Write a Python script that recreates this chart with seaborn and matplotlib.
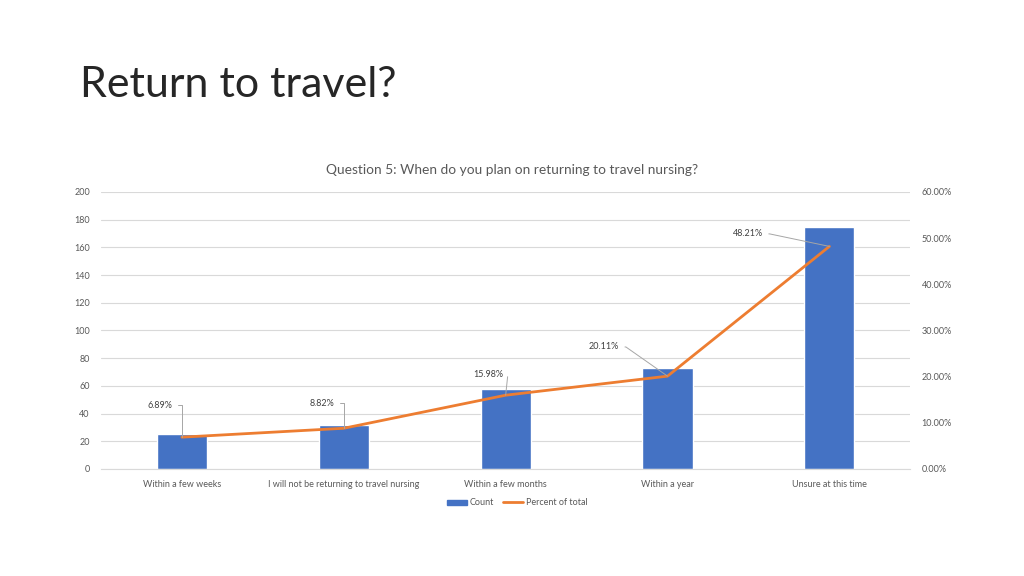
import pandas as pd
import matplotlib.pyplot as plt
import seaborn as sns
from matplotlib.patches import Patch
from matplotlib.lines import Line2D

categories = ["Within a few weeks", "I will not be returning to travel nursing",
              "Within a few months", "Within a year", "Unsure at this time"]
counts = [25, 32, 58, 73, 175]
percents = [6.89, 8.82, 15.98, 20.11, 48.21]
percent_labels = ["6.89%", "8.82%", "15.98%", "20.11%", "48.21%"]

df = pd.DataFrame({"category": categories, "count": counts, "percent": percents})

sns.set_style("white")
plt.rcParams['font.family'] = ['Lato', 'DejaVu Sans']

fig = plt.figure(figsize=(10.24, 5.76), dpi=100)
ax = fig.add_axes([0.0986, 0.1858, 0.7904, 0.4809])
ax2 = ax.twinx()

bar_col = "#4472C4"
line_col = "#ED7D31"
txt_col = "#595959"

sns.barplot(data=df, x="category", y="count", color=bar_col, width=0.31,
            saturation=1, ax=ax, zorder=2)
ax.set_ylim(0, 200)
ax.set_yticks(range(0, 201, 20))
ax.yaxis.grid(True, color="#D9D9D9", linewidth=0.8, zorder=0)
ax.set_axisbelow(True)
ax.set_xlabel("")
ax.set_ylabel("")
ax.tick_params(axis="both", labelsize=6.5, colors=txt_col, length=0, pad=8)
for s in ax.spines.values():
    s.set_visible(False)
ax.spines["bottom"].set_visible(True)
ax.spines["bottom"].set_color("#D9D9D9")

sns.lineplot(data=df, x="category", y="percent", color=line_col, linewidth=2,
             ax=ax2, sort=False)
ax2.set_ylim(0, 60)
ax2.set_yticks(range(0, 61, 10))
ax2.set_yticklabels([f"{v:.2f}%" for v in range(0, 61, 10)])
ax2.set_ylabel("")
ax2.tick_params(axis="y", labelsize=6.5, colors=txt_col, length=0, pad=8)
for s in ax2.spines.values():
    s.set_visible(False)
ax.set_xlim(-0.5, len(categories) - 0.5)

# data labels with leader lines
offsets = [(-7, 23), (-7, 18), (-2, 15), (-35, 21), (-48, 9)]
styles = ["angle,angleA=0,angleB=90,rad=0",
          "angle,angleA=0,angleB=90,rad=0",
          "arc,angleA=0,armA=5,angleB=90,armB=0,rad=0",
          "arc,angleA=0,armA=7,angleB=90,armB=0,rad=0",
          "arc,angleA=0,armA=7,angleB=90,armB=0,rad=0"]
for i, (lab, off, cs) in enumerate(zip(percent_labels, offsets, styles)):
    ax2.annotate(lab, xy=(i, percents[i]), xytext=off, textcoords="offset points",
                 fontsize=6.5, color="#404040", ha="right", va="center",
                 arrowprops=dict(arrowstyle="-", color="#A6A6A6", linewidth=0.7,
                                 connectionstyle=cs, relpos=(1, 0.5),
                                 shrinkA=2, shrinkB=0))

fig.text(0.078, 0.852, "Return to travel?", fontsize=31, color="#262626",
         ha="left", va="center")
fig.text(0.5, 0.705, "Question 5: When do you plan on returning to travel nursing?",
         fontsize=9.9, color=txt_col, ha="center", va="center")

handles = [Patch(color=bar_col, label="Count"),
           Line2D([0], [0], color=line_col, linewidth=2, label="Percent of total")]
fig.legend(handles=handles, loc="center", bbox_to_anchor=(0.505, 0.127), ncol=2,
           frameon=False, fontsize=6.5, handlelength=2.2, handleheight=0.5,
           columnspacing=1.0, handletextpad=0.3, labelcolor=txt_col)

fig.savefig("out.png", dpi=100, facecolor="white")
